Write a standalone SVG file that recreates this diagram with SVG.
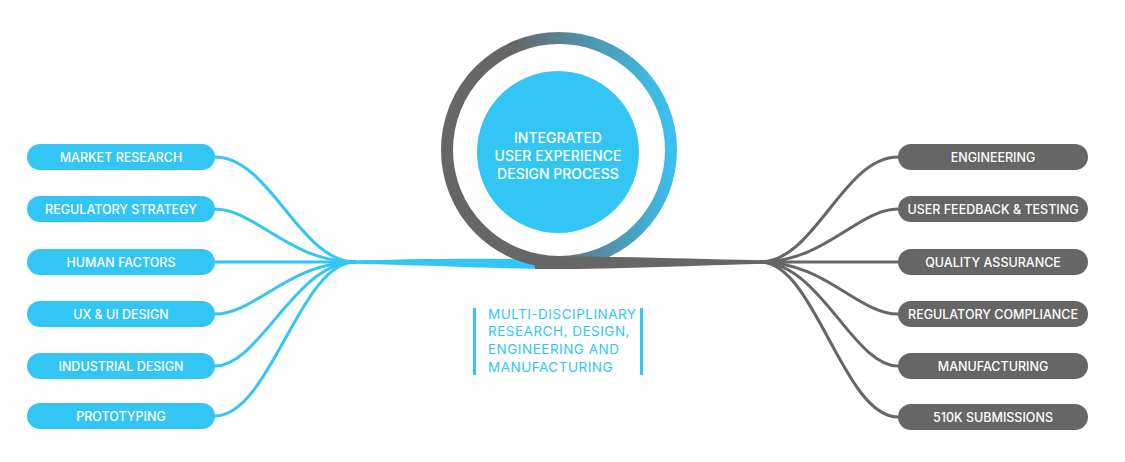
<svg xmlns="http://www.w3.org/2000/svg" width="1125" height="462" viewBox="0 0 1125 462">
<defs>
<style>
.lnode rect{fill:#33c6f4}
.rnode rect{fill:#666666}
.lbl{font-family:Inter,"Liberation Sans",sans-serif;font-size:12.5px;font-weight:500;fill:#ffffff;text-anchor:middle}
.bl{fill:none;stroke:#33c6f4;stroke-width:3;stroke-linecap:round}
.gl{fill:none;stroke:#666666;stroke-width:3;stroke-linecap:round}
.ctr{font-family:Inter,"Liberation Sans",sans-serif;font-size:14px;font-weight:500;fill:#ffffff;text-anchor:middle}
.cap{font-family:Inter,"Liberation Sans",sans-serif;font-size:13.5px;font-weight:400;fill:#33c6f4;letter-spacing:0.5px}
</style>
<linearGradient id="ringGrad" gradientUnits="userSpaceOnUse" x1="500" y1="160" x2="680" y2="140">
<stop offset="0.15" stop-color="#666666"/>
<stop offset="0.95" stop-color="#3cc0ee"/>
</linearGradient>
</defs>
<rect width="1125" height="462" fill="#ffffff"/>
<g id="connectors">
<path class="bl" d="M215,157 C270,157 300,262 355,262"/>
<path class="bl" d="M215,209 C255,209 290,262 355,262"/>
<path class="bl" d="M215,262 L355,262"/>
<path class="bl" d="M215,314 C255,314 290,262 355,262"/>
<path class="bl" d="M215,366 C260,366 295,262 355,262"/>
<path class="bl" d="M215,416 C270,416 300,262 355,262"/>
<path class="gl" d="M898,157 C843,157 815,262 760,262"/>
<path class="gl" d="M898,209 C858,209 825,262 760,262"/>
<path class="gl" d="M898,262 L760,262"/>
<path class="gl" d="M898,314 C858,314 825,262 760,262"/>
<path class="gl" d="M898,366 C853,366 820,262 760,262"/>
<path class="gl" d="M898,417 C843,417 815,262 760,262"/>
<path d="M345,260.5 C420,259 500,257 560,261 L560,269 C500,269 420,265 345,263.5 Z" fill="#33c6f4"/>
</g>
<g id="center">
<circle cx="559" cy="150" r="112" fill="none" stroke="url(#ringGrad)" stroke-width="12"/>
<path d="M775,260.5 C700,259 620,256 535,256.5 L535,269 C620,269.5 700,265 775,263.5 Z" fill="#666666"/>
<circle cx="558" cy="152" r="81" fill="#33c6f4"/>
<text class="ctr" x="558" y="143">INTEGRATED</text>
<text class="ctr" x="558" y="161">USER EXPERIENCE</text>
<text class="ctr" x="558" y="179">DESIGN PROCESS</text>
</g>
<g id="caption">
<rect x="473" y="308" width="3" height="67" fill="#33c6f4"/>
<rect x="640" y="308" width="3" height="67" fill="#33c6f4"/>
<text class="cap" x="488" y="319">MULTI-DISCIPLINARY</text>
<text class="cap" x="488" y="336">RESEARCH, DESIGN,</text>
<text class="cap" x="488" y="354">ENGINEERING AND</text>
<text class="cap" x="488" y="372">MANUFACTURING</text>
</g>
<g id="n-market" class="lnode"><rect x="27" y="144" width="188" height="26" rx="13"/><text class="lbl" x="121" y="161.5">MARKET RESEARCH</text></g>
<g id="n-regstrategy" class="lnode"><rect x="27" y="196" width="188" height="26" rx="13"/><text class="lbl" x="121" y="213.5">REGULATORY STRATEGY</text></g>
<g id="n-human" class="lnode"><rect x="27" y="249" width="188" height="26" rx="13"/><text class="lbl" x="121" y="266.5">HUMAN FACTORS</text></g>
<g id="n-uxui" class="lnode"><rect x="27" y="301" width="188" height="26" rx="13"/><text class="lbl" x="121" y="318.5">UX &amp; UI DESIGN</text></g>
<g id="n-industrial" class="lnode"><rect x="27" y="353" width="188" height="26" rx="13"/><text class="lbl" x="121" y="370.5">INDUSTRIAL DESIGN</text></g>
<g id="n-proto" class="lnode"><rect x="27" y="403" width="188" height="26" rx="13"/><text class="lbl" x="121" y="420.5">PROTOTYPING</text></g>
<g id="n-eng" class="rnode"><rect x="898" y="144" width="190" height="26" rx="13"/><text class="lbl" x="993" y="161.5">ENGINEERING</text></g>
<g id="n-feedback" class="rnode"><rect x="898" y="196" width="190" height="26" rx="13"/><text class="lbl" x="993" y="213.5">USER FEEDBACK &amp; TESTING</text></g>
<g id="n-qa" class="rnode"><rect x="898" y="249" width="190" height="26" rx="13"/><text class="lbl" x="993" y="266.5">QUALITY ASSURANCE</text></g>
<g id="n-regcomp" class="rnode"><rect x="898" y="301" width="190" height="26" rx="13"/><text class="lbl" x="993" y="318.5">REGULATORY COMPLIANCE</text></g>
<g id="n-mfg" class="rnode"><rect x="898" y="353" width="190" height="26" rx="13"/><text class="lbl" x="993" y="370.5">MANUFACTURING</text></g>
<g id="n-510k" class="rnode"><rect x="898" y="404" width="190" height="26" rx="13"/><text class="lbl" x="993" y="421.5">510K SUBMISSIONS</text></g>
</svg>
